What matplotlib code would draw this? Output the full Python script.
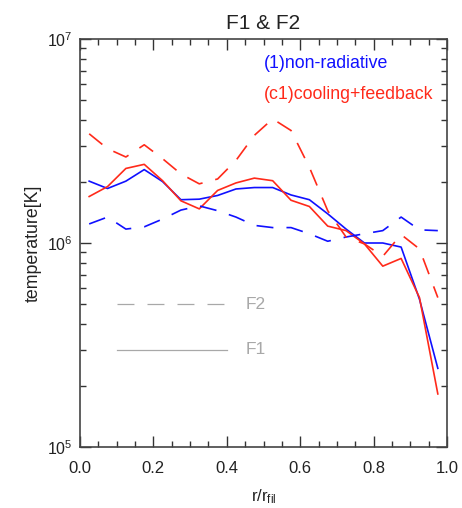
import numpy as np
import matplotlib
matplotlib.use("Agg")
import matplotlib.pyplot as plt
from matplotlib.ticker import FixedLocator, LogLocator, NullFormatter

plt.rcParams['font.family'] = ['Liberation Sans', 'DejaVu Sans']
plt.rcParams['mathtext.fontset'] = 'custom'
plt.rcParams['mathtext.rm'] = 'Liberation Sans'
plt.rcParams['mathtext.it'] = 'Liberation Sans'
plt.rcParams['lines.scale_dashes'] = False

# bin centres r/r_fil
r = np.arange(0.025, 1.0, 0.05)

# temperatures [K]
f1_nonrad = [2.01e6, 1.85e6, 2.01e6, 2.29e6, 2.00e6, 1.63e6, 1.64e6, 1.71e6, 1.84e6, 1.87e6,
             1.87e6, 1.72e6, 1.63e6, 1.39e6, 1.17e6, 1.00e6, 1.00e6, 9.55e5, 5.3e5, 2.43e5]
f1_cool = [1.69e6, 1.89e6, 2.32e6, 2.43e6, 2.02e6, 1.61e6, 1.47e6, 1.81e6, 1.97e6, 2.08e6,
           2.02e6, 1.62e6, 1.51e6, 1.21e6, 1.15e6, 9.9e5, 7.7e5, 8.4e5, 5.4e5, 1.82e5]
f2_nonrad = [1.24e6, 1.34e6, 1.17e6, 1.20e6, 1.31e6, 1.45e6, 1.52e6, 1.44e6, 1.34e6, 1.22e6,
             1.19e6, 1.19e6, 1.11e6, 1.02e6, 1.07e6, 1.11e6, 1.15e6, 1.34e6, 1.16e6, 1.15e6]
f2_cool = [3.43e6, 2.90e6, 2.64e6, 3.03e6, 2.59e6, 2.18e6, 1.95e6, 2.06e6, 2.54e6, 3.37e6,
           4.06e6, 3.56e6, 2.35e6, 1.44e6, 1.07e6, 9.9e5, 8.6e5, 1.10e6, 9.35e5, 5.4e5]

blue = '#1010ff'
red = '#ff2a1a'
gray = '#a8a8a8'
dash = (12.2, 9.4)

fig = plt.figure(figsize=(4.62, 5.08), dpi=100)
ax = fig.add_axes([80 / 462, 1 - 447 / 508, 367 / 462, 408 / 508])

lw = 1.2
ax.plot(r, f1_nonrad, color=blue, lw=lw)
ax.plot(r, f1_cool, color=red, lw=lw)
ax.plot(r, f2_nonrad, color=blue, lw=lw, dashes=dash)
ax.plot(r, f2_cool, color=red, lw=lw, dashes=dash)

# line-style key
ax.plot([0.1, 0.4], [5.0e5, 5.0e5], color=gray, lw=0.9, dashes=dash)
ax.plot([0.1, 0.4], [3.0e5, 3.0e5], color=gray, lw=0.9)
ax.text(0.45, 5.0e5, 'F2', color=gray, fontsize=12.5, va='center')
ax.text(0.45, 3.0e5, 'F1', color=gray, fontsize=12.5, va='center')

ax.text(0.5, 7.6e6, '(1)non-radiative', color=blue, fontsize=12.8, va='center')
ax.text(0.5, 5.36e6, '(c1)cooling+feedback', color=red, fontsize=12.8, va='center')

ax.set_yscale('log')
ax.set_xlim(0, 1)
ax.set_ylim(1e5, 1e7)
ax.xaxis.set_major_locator(FixedLocator([0, 0.2, 0.4, 0.6, 0.8, 1.0]))
ax.xaxis.set_minor_locator(FixedLocator(np.arange(0.05, 1.0, 0.05)))
ax.set_xticklabels(['0.0', '0.2', '0.4', '0.6', '0.8', '1.0'])
ax.yaxis.set_major_locator(FixedLocator([1e5, 1e6, 1e7]))
ax.yaxis.set_minor_locator(LogLocator(base=10, subs=np.arange(2, 10)))
ax.yaxis.set_minor_formatter(NullFormatter())
ax.set_yticklabels([r'$10^{5}$', r'$10^{6}$', r'$10^{7}$'])

ax.tick_params(which='both', direction='in', top=True, right=True, color='#333333',
               labelcolor='#222222')
ax.tick_params(axis='x', labelsize=12, pad=10)
ax.tick_params(axis='y', labelsize=11.5, pad=5)
ax.tick_params(which='major', length=8, width=1)
ax.tick_params(which='minor', length=4, width=1)
for s in ax.spines.values():
    s.set_color('#444444')
    s.set_linewidth(1.2)

ax.set_title('F1 & F2', fontsize=15, color='#222222', pad=7)
ax.set_xlabel(r'r/r$_{\rm fil}$', fontsize=12, color='#222222', labelpad=8)
ax.set_ylabel('temperature[K]', fontsize=12.8, color='#222222', labelpad=4)

fig.savefig('out.png', dpi=100)
